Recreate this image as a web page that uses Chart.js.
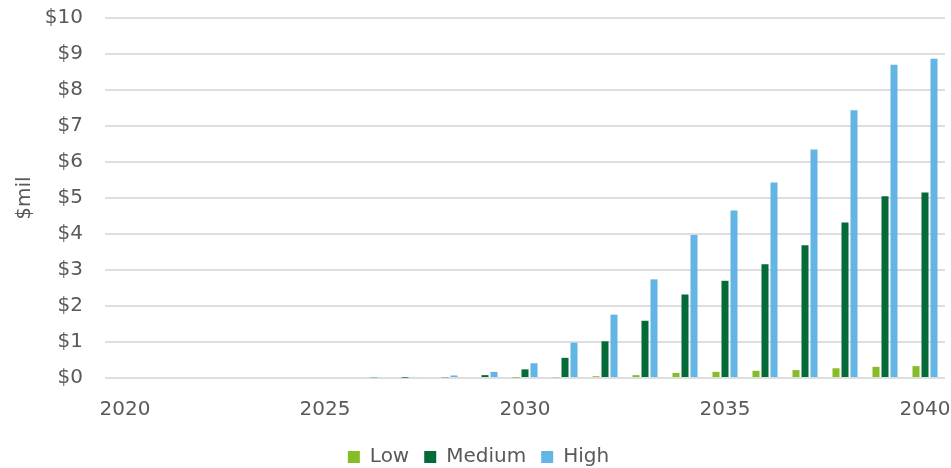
<!DOCTYPE html>
<html>
<head>
<meta charset="utf-8">
<script src="https://cdn.jsdelivr.net/npm/chart.js@4.4.1/dist/chart.umd.min.js"></script>
<style>
  body { margin: 0; background: #fff; }
  canvas { display: block; }
</style>
</head>
<body>
<canvas id="chart" width="951" height="468"></canvas>
<script>
const years = [2020, 2021, 2022, 2023, 2024, 2025, 2026, 2027, 2028, 2029, 2030,
               2031, 2032, 2033, 2034, 2035, 2036, 2037, 2038, 2039, 2040];
const lowValues = [0, 0, 0, 0, 0, 0, 0, 0, 0, 0, 0.01,
                   0.02, 0.05, 0.08, 0.14, 0.17, 0.20, 0.22, 0.27, 0.31, 0.33];
const mediumValues = [0, 0, 0, 0, 0, 0, 0, 0.01, 0.02, 0.08, 0.24,
                      0.56, 1.02, 1.59, 2.32, 2.70, 3.16, 3.69, 4.32, 5.05, 5.15];
const highValues = [0, 0, 0, 0, 0, 0, 0.01, 0.03, 0.07, 0.17, 0.41,
                    0.98, 1.76, 2.74, 3.97, 4.65, 5.43, 6.35, 7.44, 8.70, 8.87];

const textColor = '#595959';
const font = { family: '"DejaVu Sans", Verdana, sans-serif', size: 20 };

// chart.js pads the area for overflowing tick labels; the reference lets them overflow
function noLabelPadding(scale) {
  scale.paddingLeft = 0;
  scale.paddingRight = 0;
  scale.paddingTop = 0;
  scale.paddingBottom = 0;
}

// nudge the legend to where it sits in the reference
const legendShift = {
  id: 'legendShift',
  afterLayout(chart) {
    chart.legend.top += 9;
    chart.legend.bottom += 9;
    chart.legend.left += 6;
    chart.legend.right += 6;
  }
};

const ctx = document.getElementById('chart').getContext('2d');
new Chart(ctx, {
  type: 'bar',
  data: {
    labels: years,
    datasets: [
      { label: 'Low', data: lowValues, backgroundColor: '#86BC25' },
      { label: 'Medium', data: mediumValues, backgroundColor: '#046A38' },
      { label: 'High', data: highValues, backgroundColor: '#62B5E5' }
    ]
  },
  options: {
    responsive: false,
    animation: false,
    layout: { padding: { top: 18, right: 6, bottom: 0, left: 0 } },
    datasets: {
      bar: { categoryPercentage: 0.675, barPercentage: 0.78 }
    },
    scales: {
      x: {
        grid: { display: false },
        border: { display: false },
        ticks: {
          color: textColor,
          font: font,
          autoSkip: false,
          maxRotation: 0,
          padding: 12,
          callback: function(val, i) {
            const y = years[i];
            return y % 5 === 0 ? String(y) : '';
          }
        },
        afterFit: function(scale) {
          scale.height = 45;
          noLabelPadding(scale);
        }
      },
      y: {
        min: 0,
        max: 10,
        grid: { color: '#dedede', lineWidth: 2, drawTicks: false },
        border: { display: false },
        ticks: {
          stepSize: 1,
          color: textColor,
          font: font,
          padding: 22,
          callback: function(val) { return '$' + val; }
        },
        title: {
          display: true,
          text: '$mil',
          color: textColor,
          font: font,
          padding: { top: 13, bottom: 0 }
        },
        afterFit: function(scale) {
          scale.width = 105;
          noLabelPadding(scale);
        }
      }
    },
    plugins: {
      legend: {
        position: 'bottom',
        labels: {
          color: textColor,
          font: font,
          boxWidth: 12,
          boxHeight: 12,
          padding: 15
        }
      },
      tooltip: { enabled: false }
    }
  },
  plugins: [legendShift]
});
</script>
</body>
</html>
